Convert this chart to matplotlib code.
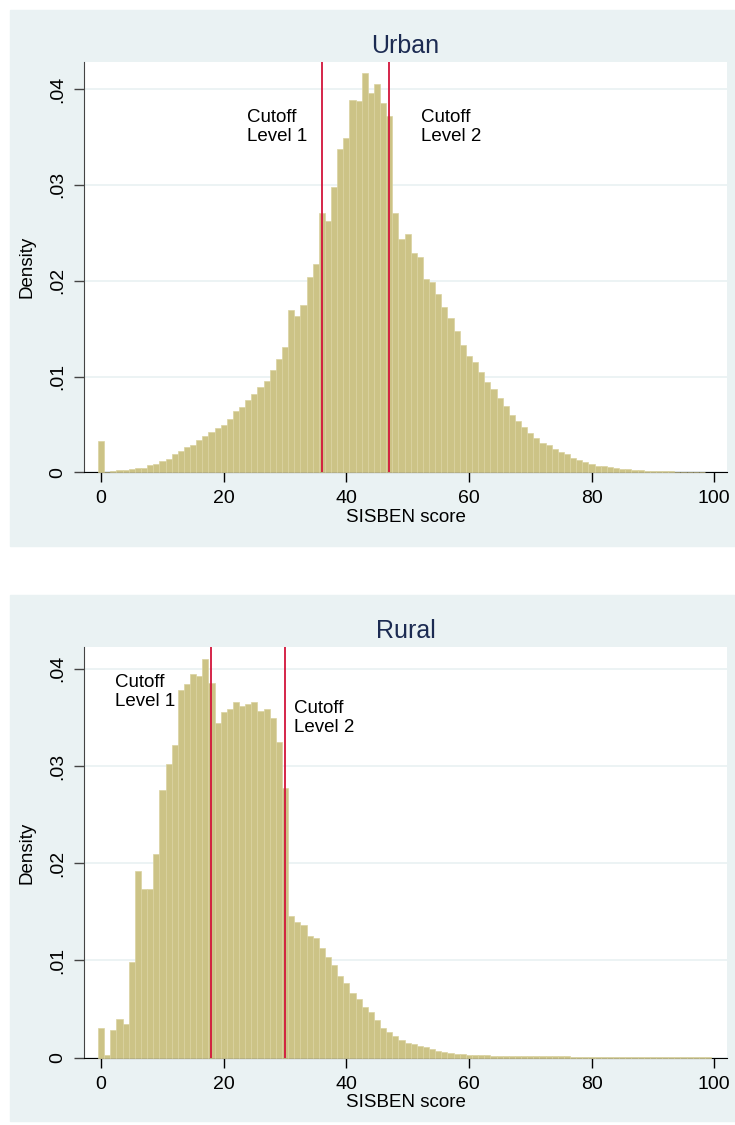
import numpy as np
import matplotlib.pyplot as plt
from matplotlib.patches import Rectangle
from matplotlib.ticker import FuncFormatter

plt.rcParams['font.family'] = ['Liberation Sans', 'DejaVu Sans']

# Densidad por puntaje SISBEN (en unidades de 0.01), una barra por entero
urban_score = np.arange(0, 99)
urban_density = np.array([
    0.33, 0.00, 0.01, 0.02, 0.02, 0.03, 0.04, 0.05, 0.08, 0.09,
    0.12, 0.14, 0.19, 0.22, 0.26, 0.29, 0.34, 0.38, 0.42, 0.46,
    0.49, 0.56, 0.64, 0.68, 0.75, 0.82, 0.89, 0.95, 1.07, 1.18,
    1.31, 1.69, 1.63, 1.75, 2.04, 2.17, 2.71, 2.62, 2.98, 3.38,
    3.49, 3.89, 3.88, 4.17, 3.96, 4.05, 3.86, 3.72, 2.71, 2.44,
    2.49, 2.29, 2.25, 2.02, 1.99, 1.86, 1.73, 1.61, 1.48, 1.33,
    1.21, 1.15, 1.05, 0.94, 0.87, 0.78, 0.69, 0.60, 0.54, 0.47,
    0.41, 0.36, 0.31, 0.28, 0.24, 0.21, 0.19, 0.15, 0.13, 0.11,
    0.09, 0.07, 0.066, 0.056, 0.049, 0.038, 0.031, 0.024, 0.020, 0.017,
    0.014, 0.012, 0.010, 0.009, 0.008, 0.007, 0.006, 0.005, 0.005,
]) / 100

rural_score = np.arange(0, 100)
rural_density = np.array([
    0.31, 0.03, 0.28, 0.40, 0.35, 0.98, 1.92, 1.73, 1.73, 2.09,
    2.75, 3.02, 3.22, 3.78, 3.84, 3.95, 3.93, 4.10, 3.85, 3.44,
    3.55, 3.59, 3.66, 3.62, 3.64, 3.66, 3.57, 3.59, 3.49, 3.25,
    2.77, 1.46, 1.40, 1.36, 1.25, 1.23, 1.13, 1.04, 0.95, 0.84,
    0.77, 0.67, 0.60, 0.52, 0.47, 0.39, 0.31, 0.26, 0.22, 0.18,
    0.15, 0.14, 0.12, 0.11, 0.086, 0.068, 0.058, 0.048, 0.041, 0.034,
    0.031, 0.028, 0.026, 0.024, 0.022, 0.020, 0.019, 0.018, 0.017, 0.017,
    0.016, 0.015, 0.015, 0.014, 0.014, 0.013, 0.013, 0.012, 0.012, 0.011,
    0.011, 0.010, 0.010, 0.010, 0.010, 0.009, 0.009, 0.009, 0.009, 0.009,
    0.008, 0.008, 0.008, 0.008, 0.008, 0.008, 0.008, 0.008, 0.008, 0.008,
]) / 100

urban_cutoffs = [36, 47]
rural_cutoffs = [18, 30]
x_ticks = [0, 20, 40, 60, 80, 100]
y_ticks = [0, 0.01, 0.02, 0.03, 0.04]

BG = '#EAF2F3'
BAR = '#CCC386'
BAR_EDGE = '#DAD3A0'
LINE = '#D2143A'

fig = plt.figure(figsize=(7.35, 11.25), dpi=100)

# fondos de cada panel, por debajo de los ejes
fig.patches.append(Rectangle((10 / 735, 1 - 546 / 1125), 725 / 735, 536 / 1125,
                             transform=fig.transFigure, color=BG, zorder=-10))
fig.patches.append(Rectangle((10 / 735, 1 - 1121 / 1125), 725 / 735, 526 / 1125,
                             transform=fig.transFigure, color=BG, zorder=-10))


def panel(rect, title, score, dens, cutoffs, ytop, labels):
    ax = fig.add_axes(rect)
    ax.set_facecolor('white')
    # las barras van sobre el eje x para que la cola siga visible
    ax.bar(score, dens, width=1.0, color=BAR, edgecolor=BAR_EDGE, linewidth=0.5,
           zorder=2.6, clip_on=False)
    for c in cutoffs:
        ax.axvline(c, color=LINE, lw=1.3, zorder=3)
    for (tx, ty, txt) in labels:
        ax.text(tx, ty, txt, fontsize=13.5, va='top', ha='left', linespacing=1.15, zorder=4)
    ax.set_xlim(-2.8, 102.1)
    ax.set_ylim(0, ytop)
    ax.set_xticks(x_ticks)
    ax.set_yticks(y_ticks)
    ax.yaxis.set_major_formatter(FuncFormatter(lambda v, p: '0' if v == 0 else f'{v:.2f}'[1:]))
    ax.yaxis.grid(True, color=BG, lw=1.3)
    ax.set_axisbelow(True)
    for s in ['top', 'right']:
        ax.spines[s].set_visible(False)
    ax.spines['left'].set_color('#444444')
    ax.spines['bottom'].set_color('black')
    ax.tick_params(axis='x', length=7, width=1, pad=6, labelsize=14)
    ax.tick_params(axis='y', length=7, width=1, color='#444444', pad=6,
                   labelsize=14, labelrotation=90)
    for lab in ax.get_yticklabels():
        lab.set_va('center')
    ax.set_xlabel('SISBEN score', fontsize=13.5, labelpad=1)
    ax.set_ylabel('Density', fontsize=13.5, labelpad=10)
    ax.set_title(title, fontsize=18, color='#1C2B52', pad=7)
    return ax


panel([84 / 735, 1 - 472.3 / 1125, 643 / 735, 410 / 1125], 'Urban',
      urban_score, urban_density, urban_cutoffs, 0.0428,
      [(23.8, 0.0379, 'Cutoff\nLevel 1'), (52.2, 0.0379, 'Cutoff\nLevel 2')])

panel([84 / 735, 1 - 1057.7 / 1125, 643 / 735, 410.4 / 1125], 'Rural',
      rural_score, rural_density, rural_cutoffs, 0.0422,
      [(2.2, 0.0395, 'Cutoff\nLevel 1'), (31.4, 0.0368, 'Cutoff\nLevel 2')])

fig.savefig('out.png', dpi=100)
